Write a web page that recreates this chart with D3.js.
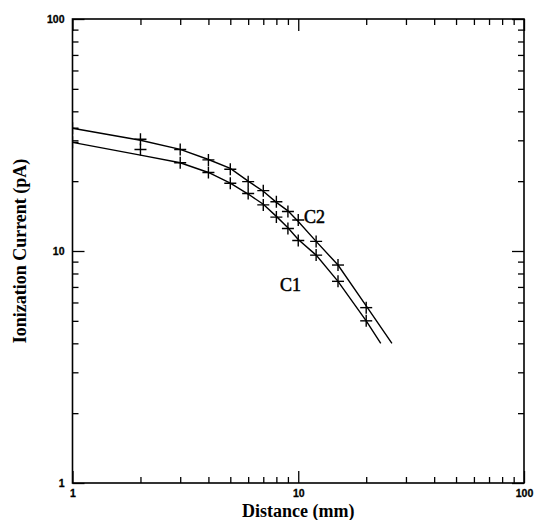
<!DOCTYPE html>
<html>
<head>
<meta charset="utf-8">
<script src="https://cdn.jsdelivr.net/npm/d3@7"></script>
<style>
  body { margin: 0; background: #fff; }
  svg { display: block; }
</style>
</head>
<body>
<script>
// measured points (crosses)
const distances = [1, 2, 3, 4, 5, 6, 7, 8, 9, 10, 12, 15, 20];
const c2Points = [33.8, 30.3, 27.4, 24.7, 22.5, 19.9, 18.2, 16.3, 14.8, 13.6, 11.0, 8.7, 5.7];
const c1Points = [29.4, 27.4, 24.0, 21.8, 19.6, 17.7, 15.8, 14.0, 12.5, 11.1, 9.6, 7.4, 5.0];

// fitted curves
const c2LineX = [1, 2, 3, 4, 5, 6, 7, 8, 9, 10, 12, 15, 20, 26];
const c2LineY = [33.8, 30.0, 27.4, 24.8, 22.7, 20.0, 18.1, 16.2, 14.9, 13.4, 11.0, 8.7, 5.8, 4.0];
const c1LineX = [1, 2, 3, 4, 5, 6, 7, 8, 9, 10, 12, 15, 20, 23.2];
const c1LineY = [29.4, 25.9, 24.0, 21.8, 19.6, 17.6, 15.9, 14.1, 12.6, 11.2, 9.6, 7.4, 5.0, 4.0];

const majorTicks = [1, 10, 100];
const minorTicks = [2, 3, 4, 5, 6, 7, 8, 9, 20, 30, 40, 50, 60, 70, 80, 90];

const svgWidth = 535;
const svgHeight = 520;
const margin = {top: 19, right: 11, bottom: 37, left: 72.5};
const width = svgWidth - margin.left - margin.right;
const height = svgHeight - margin.top - margin.bottom;

const svg = d3.select("body")
    .append("svg")
    .attr("width", svgWidth)
    .attr("height", svgHeight);

const g = svg.append("g")
    .attr("transform", `translate(${margin.left}, ${margin.top})`);

const x = d3.scaleLog().domain([1, 100]).range([0, width]);
const y = d3.scaleLog().domain([1, 100]).range([height, 0]);

g.append("clipPath").attr("id", "plot")
    .append("rect").attr("width", width).attr("height", height);

// axes: ticks pointing inward on all four sides
function drawAxis(axisFn, scale, transform, values, size, labels) {
    const a = g.append("g")
        .attr("transform", transform)
        .call(axisFn(scale).tickValues(values).tickSize(size).tickSizeOuter(0)
            .tickFormat(labels ? d3.format("d") : ""));
    a.select(".domain").remove();
    a.selectAll(".tick line").attr("stroke", "#000").attr("stroke-width", 1.3);
    a.selectAll("text")
        .style("font-family", "'Liberation Sans', Arial, sans-serif")
        .style("font-weight", "bold")
        .style("font-size", "10.5px")
        .attr("stroke", "#000")
        .attr("stroke-width", 0.3)
        .attr("fill", "#000");
    return a;
}

const bx = drawAxis(d3.axisBottom, x, `translate(0, ${height})`, majorTicks, -12, true);
bx.selectAll("text").attr("y", 7).attr("dy", "0.71em");
drawAxis(d3.axisBottom, x, `translate(0, ${height})`, minorTicks, -6, false);
drawAxis(d3.axisTop, x, "translate(0, 0)", majorTicks, -12, false);
drawAxis(d3.axisTop, x, "translate(0, 0)", minorTicks, -6, false);

const ly = drawAxis(d3.axisLeft, y, "translate(0, 0)", majorTicks, -12, true);
ly.selectAll("text").attr("x", -8);
drawAxis(d3.axisLeft, y, "translate(0, 0)", minorTicks, -6, false);
drawAxis(d3.axisRight, y, `translate(${width}, 0)`, majorTicks, -12, false);
drawAxis(d3.axisRight, y, `translate(${width}, 0)`, minorTicks, -6, false);

// frame
g.append("rect")
    .attr("width", width)
    .attr("height", height)
    .attr("fill", "none")
    .attr("stroke", "#000")
    .attr("stroke-width", 1.6);

const line = d3.line().x(d => x(d[0])).y(d => y(d[1]));

const plot = g.append("g").attr("clip-path", "url(#plot)");

[[c2LineX, c2LineY], [c1LineX, c1LineY]].forEach(([xs, ys]) => {
    plot.append("path")
        .datum(xs.map((v, i) => [v, ys[i]]))
        .attr("d", line)
        .attr("fill", "none")
        .attr("stroke", "#000")
        .attr("stroke-width", 1.4);
});

const crossSize = 6;
[c2Points, c1Points].forEach(series => {
    const pts = plot.selectAll(null)
        .data(distances.map((d, i) => [d, series[i]]))
        .enter()
        .append("g")
        .attr("transform", d => `translate(${x(d[0])}, ${y(d[1])})`);
    pts.append("line")
        .attr("x1", -crossSize).attr("x2", crossSize)
        .attr("stroke", "#000").attr("stroke-width", 1.4);
    pts.append("line")
        .attr("y1", -crossSize).attr("y2", crossSize)
        .attr("stroke", "#000").attr("stroke-width", 1.4);
});

// curve labels
const serif = "'Liberation Serif', 'Times New Roman', serif";
g.selectAll(null)
    .data([["C2", 10.6, 13.2], ["C1", 8.3, 6.75]])
    .enter()
    .append("text")
    .attr("x", d => x(d[1])).attr("y", d => y(d[2]))
    .style("font-family", serif).style("font-size", "18px")
    .attr("stroke", "#000").attr("stroke-width", 0.5)
    .text(d => d[0]);

// axis titles
svg.append("text")
    .attr("x", margin.left + width / 2)
    .attr("y", 517)
    .attr("text-anchor", "middle")
    .style("font-family", serif)
    .style("font-weight", "bold")
    .style("font-size", "18px")
    .text("Distance (mm)");

svg.append("text")
    .attr("transform", `translate(26, ${margin.top + height / 2}) rotate(-90)`)
    .attr("text-anchor", "middle")
    .style("font-family", serif)
    .style("font-weight", "bold")
    .style("font-size", "18px")
    .text("Ionization Current (pA)");
</script>
</body>
</html>
